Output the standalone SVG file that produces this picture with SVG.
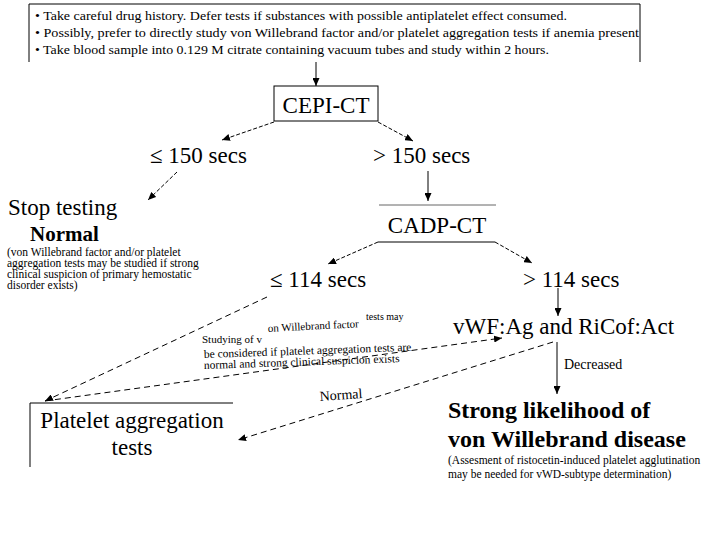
<svg xmlns="http://www.w3.org/2000/svg" width="720" height="540" viewBox="0 0 720 540">
<style>
text{font-family:"Liberation Serif","Times New Roman",serif;fill:#000}
.big{font-size:23px}
.bold{font-weight:bold}
.sm{font-size:11.5px}
.lbl{font-size:11px}
.top{font-size:13px}
.ln{stroke:#000;stroke-width:1;fill:none}
.dash{stroke:#000;stroke-width:1;fill:none;stroke-dasharray:4,2}
.dash2{stroke:#000;stroke-width:1;fill:none;stroke-dasharray:6,4}
</style>
<defs>
<marker id="ah" markerWidth="8" markerHeight="7" refX="8" refY="3.5" orient="auto" markerUnits="userSpaceOnUse"><path d="M0,0 L8,3.5 L0,7 z" fill="#000"/></marker>
</defs>
<rect width="720" height="540" fill="#fff"/>

<g id="intro">
<path class="ln" d="M29,62 V4 H640 V62"/>
<text class="top" x="35" y="20" textLength="532" lengthAdjust="spacingAndGlyphs">• Take careful drug history. Defer tests if substances with possible antiplatelet effect consumed.</text>
<text class="top" x="35" y="37" textLength="604" lengthAdjust="spacingAndGlyphs">• Possibly, prefer to directly study von Willebrand factor and/or platelet aggregation tests if anemia present</text>
<text class="top" x="35" y="54" textLength="514" lengthAdjust="spacingAndGlyphs">• Take blood sample into 0.129 M citrate containing vacuum tubes and study within 2 hours.</text>
</g>

<g id="cepi">
<rect class="ln" x="274" y="86" width="104" height="35"/>
<text class="big" x="326" y="113" text-anchor="middle">CEPI-CT</text>
</g>

<g id="le150"><text class="big" x="150" y="163">≤ 150 secs</text></g>
<g id="gt150"><text class="big" x="373" y="163">&gt; 150 secs</text></g>

<g id="stop">
<text class="big" x="8" y="215">Stop testing</text>
<text class="bold" x="30" y="241" font-size="21">Normal</text>
<text class="sm" x="7" y="256">(von Willebrand factor and/or platelet</text>
<text class="sm" x="7" y="267">aggregation tests may be studied if strong</text>
<text class="sm" x="7" y="278">clinical suspicion of primary hemostatic</text>
<text class="sm" x="7" y="289">disorder exists)</text>
</g>

<g id="cadp">
<line class="ln" x1="379" y1="205" x2="496" y2="205" stroke-opacity="0.6"/>
<line class="ln" x1="378" y1="242" x2="495" y2="242"/>
<text class="big" x="437" y="233" text-anchor="middle">CADP-CT</text>
</g>

<g id="le114"><text class="big" x="270" y="287">≤ 114 secs</text></g>
<g id="gt114"><text class="big" x="523" y="287">&gt; 114 secs</text></g>

<g id="vwf"><text class="big" x="453" y="334" font-size="23.5">vWF:Ag and RiCof:Act</text></g>

<g id="strong">
<text class="bold" x="448" y="418" font-size="24">Strong likelihood of</text>
<text class="bold" x="448" y="447" font-size="24">von Willebrand disease</text>
<text class="sm" x="448" y="464">(Assesment of ristocetin-induced platelet agglutination</text>
<text class="sm" x="448" y="478">may be needed for vWD-subtype determination)</text>
</g>

<g id="platelet">
<path class="ln" d="M30,467 V403 H233"/>
<text class="big" x="132" y="428" text-anchor="middle">Platelet aggregation</text>
<text class="big" x="132" y="455" text-anchor="middle">tests</text>
</g>

<g id="connectors">
<line class="ln" x1="316" y1="62" x2="316" y2="86" marker-end="url(#ah)"/>
<line class="dash" x1="274" y1="122" x2="222" y2="140" marker-end="url(#ah)"/>
<line class="dash" x1="378" y1="122" x2="413" y2="141" marker-end="url(#ah)"/>
<line class="dash" x1="177" y1="172" x2="148" y2="200" marker-end="url(#ah)"/>
<line class="ln" x1="428" y1="171" x2="428" y2="201" marker-end="url(#ah)"/>
<line class="dash" x1="378" y1="242" x2="328" y2="264" marker-end="url(#ah)"/>
<line class="dash" x1="495" y1="242" x2="532" y2="263" marker-end="url(#ah)"/>
<line class="ln" x1="558" y1="288" x2="558" y2="316" marker-end="url(#ah)"/>
<line class="ln" x1="557" y1="342" x2="557" y2="394" marker-end="url(#ah)"/>
<text x="564" y="369" font-size="14">Decreased</text>
<line class="dash2" x1="267" y1="297" x2="45" y2="401" marker-end="url(#ah)"/>
<line class="dash2" x1="45" y1="401" x2="502" y2="338" marker-end="url(#ah)"/>
<line class="dash2" x1="553" y1="342" x2="238" y2="440" marker-end="url(#ah)"/>
<text x="320" y="401" font-size="14" transform="rotate(-4 320 401)">Normal</text>
<text x="366" y="320" font-size="10">tests may</text>
<text class="lbl" x="268" y="332" transform="rotate(-3 268 332)">on Willebrand factor</text>
<text class="lbl" x="202" y="343">Studying of v</text>
<text class="sm" x="204" y="358" transform="rotate(-2 204 358)">be considered if platelet aggregation tests are</text>
<text class="sm" x="204" y="369" transform="rotate(-2 204 369)">normal and strong clinical suspicion exists</text>
</g>
</svg>
